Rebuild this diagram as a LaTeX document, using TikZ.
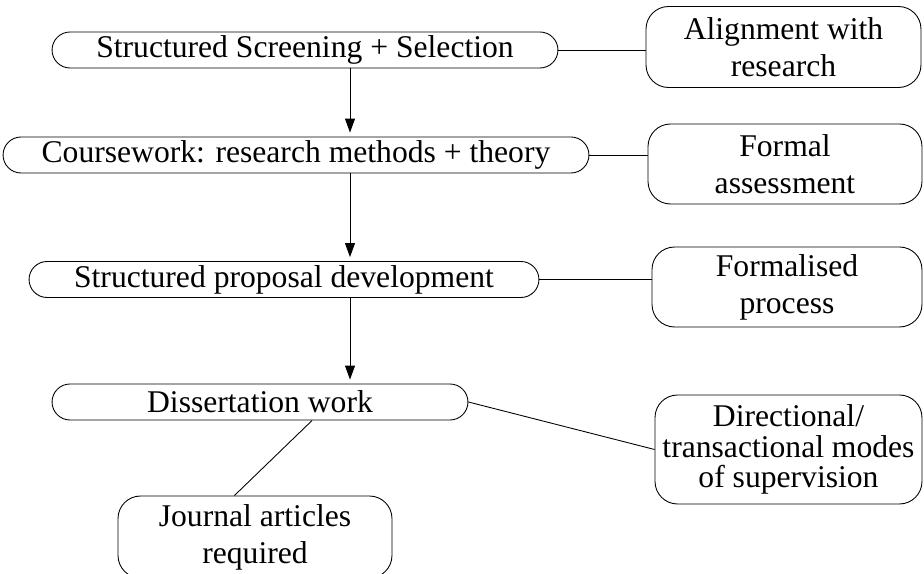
\documentclass[tikz,border=0pt]{standalone}
\usepackage{fontspec}
\setmainfont{Liberation Serif}
\usetikzlibrary{arrows.meta,calc}
\begin{document}
\begin{tikzpicture}[x=0.02cm, y=-0.02cm,
    stage/.style={draw, line width=0.5pt, rounded corners=0.36cm, inner sep=0pt, minimum height=0.72cm, font=\fontsize{18}{21}\selectfont},
    note/.style={draw, line width=0.5pt, rounded corners=0.45cm, inner sep=0pt, align=center, font=\fontsize{18}{21}\selectfont},
    link/.style={line width=0.5pt},
    flow/.style={line width=0.5pt, -{Triangle[length=0.28cm,width=0.2cm]}, shorten >=0.08cm}]
    \clip (0,0) rectangle (924,574);

    \node[stage, minimum width=10.12cm] (scr) at (305,50) {Structured Screening + Selection};
    \node[stage, minimum width=11.72cm] (cw) at (296,155) {Coursework: research methods + theory};
    \node[stage, minimum width=10.2cm] (prop) at (284,279.5) {Structured proposal development};
    \node[stage, minimum width=8.32cm] (diss) at (260,402) {Dissertation work};

    \node[note, minimum width=5.5cm, minimum height=1.62cm] (align) at (783.5,47) {Alignment with\\research};
    \node[note, minimum width=5.48cm, minimum height=1.6cm] (formal) at (785,164) {Formal\\assessment};
    \node[note, minimum width=5.4cm, minimum height=1.6cm] (fproc) at (787,287) {Formalised\\process};
    \node[note, minimum width=5.34cm, minimum height=2.18cm, font=\fontsize{18}{17.5}\selectfont] (dirmod) at (788.5,449.5) {Directional/\\transactional modes\\of supervision};
    \node[note, minimum width=5.48cm, minimum height=1.64cm] (jour) at (255,537) {Journal articles\\required};

    \coordinate (ax) at (350,0);
    \foreach \a/\b in {scr/cw, cw/prop, prop/diss} {
        \draw[flow] (\a.south -| ax) -- (\b.north -| ax);
    }

    \foreach \a/\b in {scr/align, cw/formal, prop/fproc} {
        \draw[link] (\a.east) -- (\a.east -| \b.west);
    }
    \draw[link] (diss.east) -- (dirmod.west);
    \draw[link] ($(diss.south)!0.25!(diss.south east)$) -- ($(jour.north)!0.15!(jour.north west)$);
\end{tikzpicture}
\end{document}
